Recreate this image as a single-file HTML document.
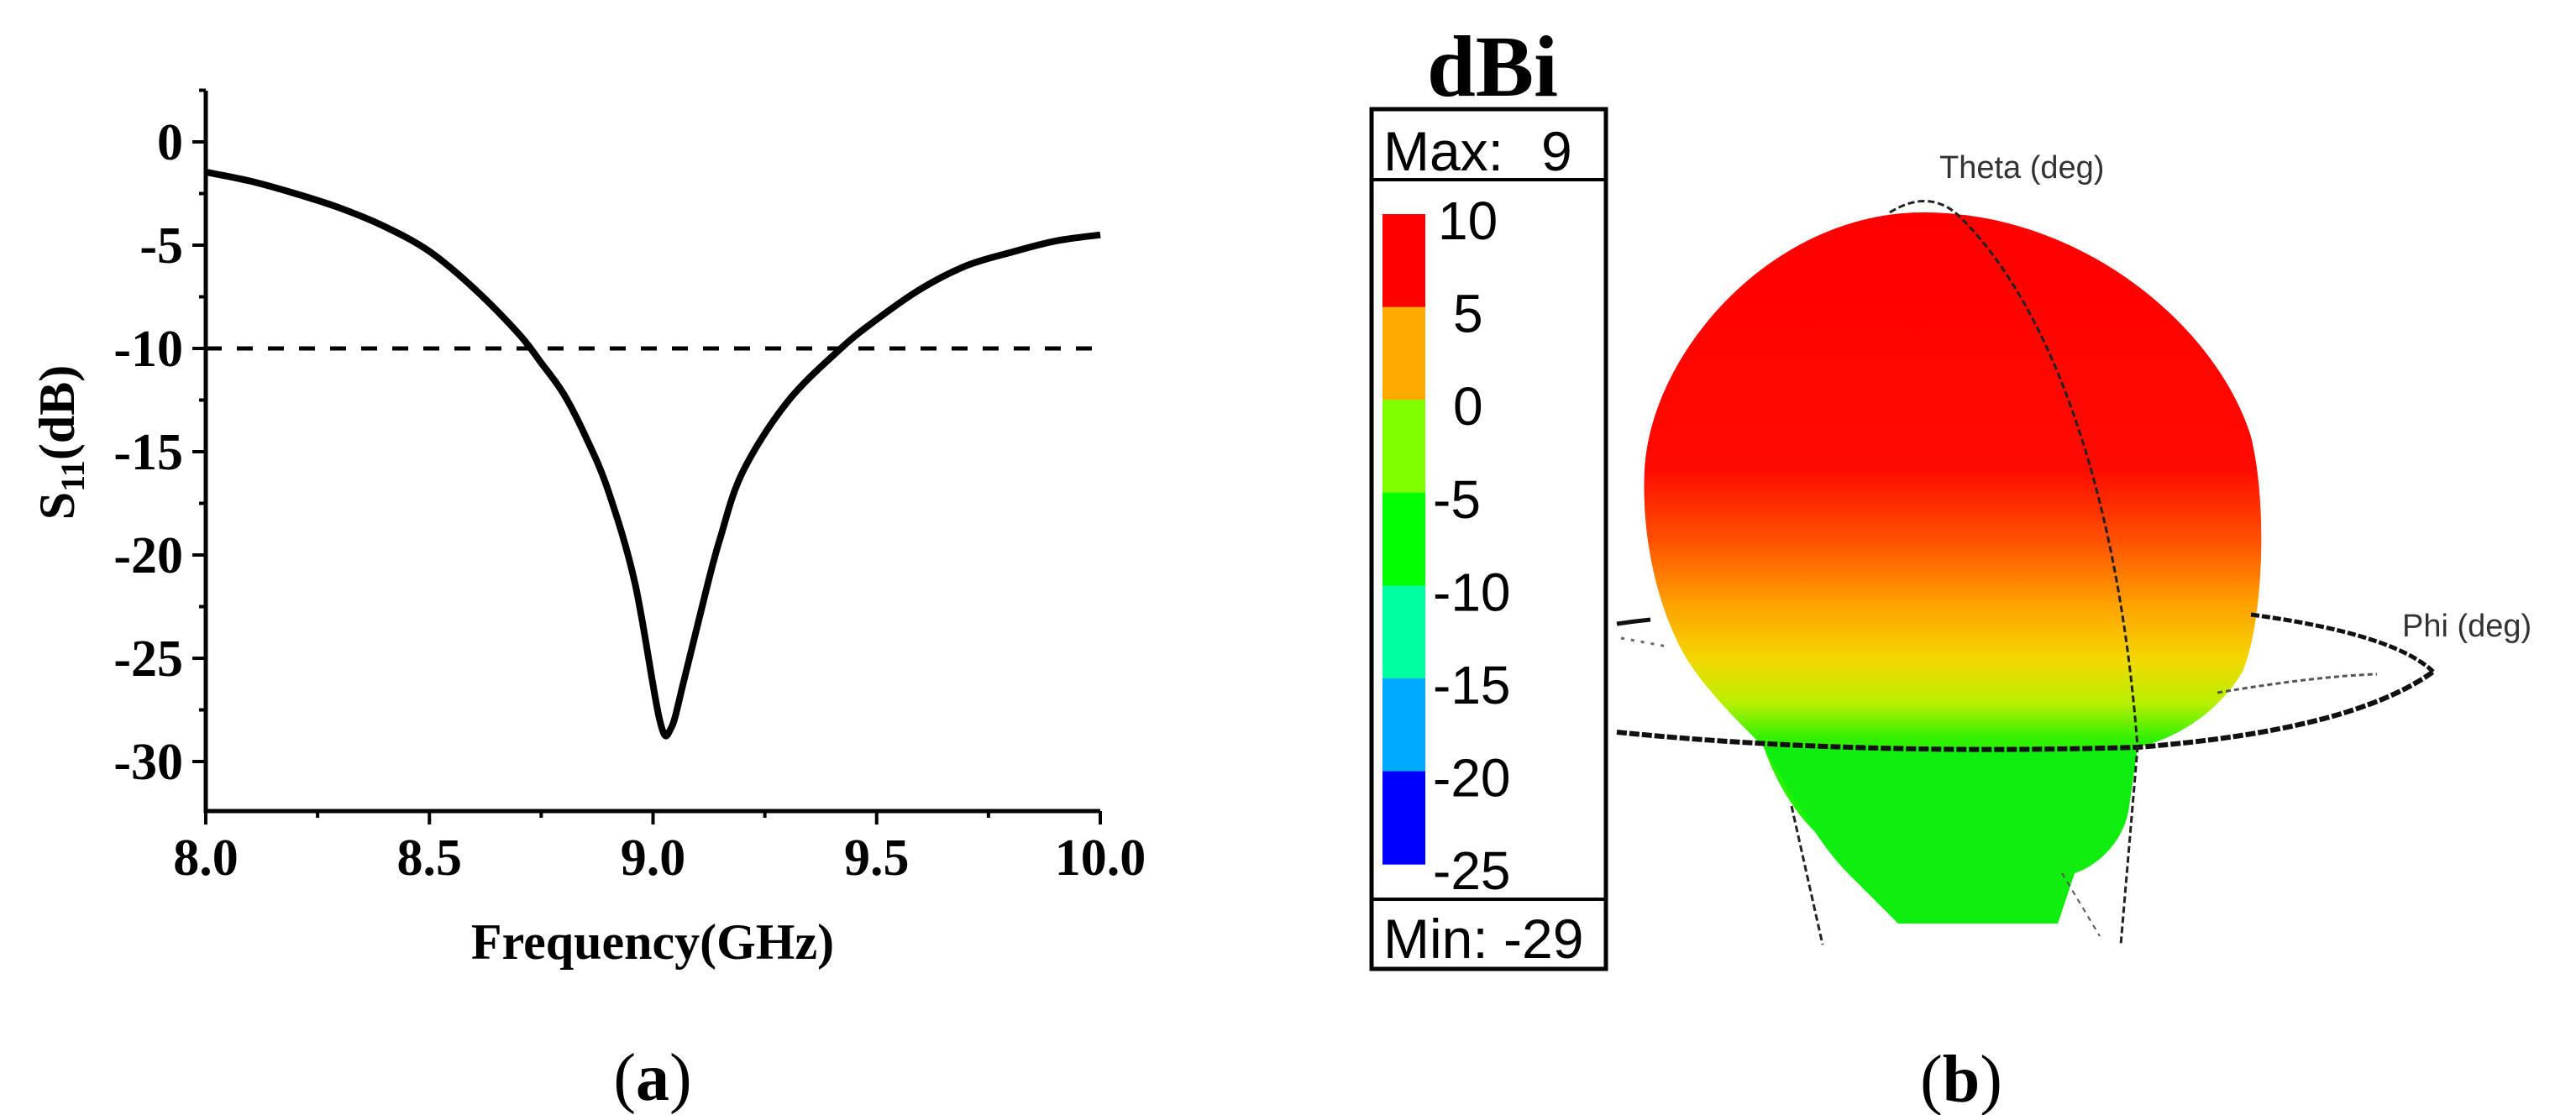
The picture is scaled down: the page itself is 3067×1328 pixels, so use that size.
<!DOCTYPE html>
<html><head><meta charset="utf-8"><style>
html,body{margin:0;padding:0;background:#fff;}
svg{display:block;}
</style></head><body>
<svg width="3067" height="1328" viewBox="0 0 3067 1328" xmlns="http://www.w3.org/2000/svg">
<defs>
<linearGradient id="bodyGrad" x1="0" y1="253" x2="0" y2="1100" gradientUnits="userSpaceOnUse">
<stop offset="0" stop-color="#ff0000"/>
<stop offset="0.36" stop-color="#ff0a00"/>
<stop offset="0.46" stop-color="#ff5000"/>
<stop offset="0.55" stop-color="#ffa000"/>
<stop offset="0.63" stop-color="#f4d800"/>
<stop offset="0.69" stop-color="#b8f000"/>
<stop offset="0.74" stop-color="#30f000"/>
<stop offset="1" stop-color="#10f010"/>
</linearGradient>
</defs>
<g id="chartA"></g>
<g>
<text x="1777" y="114" font-family="Liberation Serif, serif" font-weight="bold" font-size="104" text-anchor="middle">dBi</text>
<rect x="1633" y="130" width="279" height="1024" fill="none" stroke="#000" stroke-width="5"/>
<line x1="1633" y1="214" x2="1912" y2="214" stroke="#000" stroke-width="4"/>
<line x1="1633" y1="1071" x2="1912" y2="1071" stroke="#000" stroke-width="4"/>
<text x="1647" y="203" font-family="Liberation Sans, sans-serif" font-size="66">Max:</text>
<text x="1835" y="203" font-family="Liberation Sans, sans-serif" font-size="66">9</text>
<text x="1647" y="1141" font-family="Liberation Sans, sans-serif" font-size="66">Min: -29</text>
<g id="cbar"></g>
<path d="M 1925,743 Q 1945,740 1965,738" fill="none" stroke="#111" stroke-width="5"/>
<path d="M 1930,760 L 1985,770" fill="none" stroke="#666" stroke-width="3" stroke-dasharray="4 8"/>
<path d="M 2290,253 C 2480,253 2640,390 2680,520 C 2700,600 2695,740 2670,800 C 2640,850 2590,880 2545,890 L 2535,960 C 2530,1000 2500,1030 2470,1040 L 2450,1100 L 2260,1100 C 2230,1070 2210,1040 2185,1010 L 2160,990 C 2130,960 2110,920 2100,890 C 2060,850 2020,810 2000,770 C 1965,700 1955,620 1958,560 C 1965,420 2110,253 2290,253 Z" fill="url(#bodyGrad)"/>
<path d="M 2100,890 C 2140,960 2170,1010 2200,1040 L 2260,1100 L 2450,1100 L 2470,1040 C 2500,1030 2530,1000 2535,960 L 2545,890 Z" fill="#10ee10"/>
<path d="M 2680,732 Q 2850,755 2897,800" fill="none" stroke="#111" stroke-width="5" stroke-dasharray="10 3"/>
<path d="M 2640,825 Q 2760,805 2830,803" fill="none" stroke="#555" stroke-width="3" stroke-dasharray="6 4"/>
<path d="M 1925,872 Q 2200,900 2545,890 Q 2800,870 2897,800" fill="none" stroke="#111" stroke-width="6" stroke-dasharray="12 3"/>
<path d="M 2250,253 Q 2295,225 2330,255 C 2430,350 2520,560 2545,890 L 2525,1125" fill="none" stroke="#222" stroke-width="3" stroke-dasharray="8 4"/>
<path d="M 2133,960 L 2170,1125" fill="none" stroke="#222" stroke-width="3" stroke-dasharray="8 4"/>
<path d="M 2455,1040 L 2500,1115" fill="none" stroke="#555" stroke-width="2" stroke-dasharray="6 6"/>
<text x="2309" y="212" font-family="Liberation Sans, sans-serif" font-size="38" fill="#333">Theta (deg)</text>
<text x="2860" y="758" font-family="Liberation Sans, sans-serif" font-size="38" fill="#333">Phi (deg)</text>
<text x="2335" y="1312" font-family="Liberation Serif, serif" font-size="80" text-anchor="middle">(<tspan font-weight="bold">b</tspan>)</text>
</g>
</svg>
<script>
const freqs=[8.0,8.1,8.2,8.3,8.4,8.5,8.6,8.7,8.75,8.8,8.85,8.9,8.96,9.015,9.04,9.07,9.12,9.15,9.2,9.3,9.42,9.5,9.6,9.7,9.8,9.9,10.0];
const s11=[-1.46,-1.9,-2.5,-3.2,-4.1,-5.3,-7.1,-9.3,-10.7,-12.2,-14.3,-16.9,-21.4,-28.0,-28.4,-26.0,-21.6,-19.2,-16.0,-12.6,-10.0,-8.6,-7.1,-6.0,-5.35,-4.8,-4.5];
const xTicks=["8.0","8.5","9.0","9.5","10.0"];
const yTicks=["0","-5","-10","-15","-20","-25","-30"];
const threshold=[-10];
const cbarLabels=["10","5","0","-5","-10","-15","-20","-25"];
const cbarColors=["#ff0000","#ffaa00","#7fff00","#00ff00","#00ffa0","#00aaff","#0000ff"];
const NS="http://www.w3.org/2000/svg";
function mk(p,t,a){const e=document.createElementNS(NS,t);for(const k in a)e.setAttribute(k,a[k]);p.appendChild(e);return e;}
const L=245,R=1310,T=108,B=966,x0=8,x1=10;
const X=f=>L+(f-x0)/(x1-x0)*(R-L);
const Y=v=>169+(0-v)*24.6;
const g=document.getElementById('chartA');
const ax=mk(g,'path',{d:`M${L},${T} L${L},${B} L${R},${B}`,fill:'none',stroke:'#000','stroke-width':5});


for(let v=2.5;v>=-32.5;v-=2.5){const maj=Math.abs(v%5)<0.01;const y=Y(v);if(y<T-1||y>B+1)continue;mk(g,'line',{x1:L-(maj?16:8),y1:y,x2:L,y2:y,stroke:'#000','stroke-width':4});}
yTicks.forEach(s=>{const t=mk(g,'text',{x:218,y:Y(+s)+21,'text-anchor':'end','font-family':'Liberation Serif, serif','font-weight':'bold','font-size':62});t.textContent=s;

});
for(let f=8;f<=10.001;f+=0.25){const maj=Math.abs((f*2)%1)<0.01;mk(g,'line',{x1:X(f),y1:B,x2:X(f),y2:B+(maj?16:8),stroke:'#000','stroke-width':4});}
xTicks.forEach(s=>{const t=mk(g,'text',{x:X(+s),y:1042,'text-anchor':'middle','font-family':'Liberation Serif, serif','font-weight':'bold','font-size':62});t.textContent=s;

});
const th=mk(g,'line',{x1:L,y1:Y(threshold[0]),x2:R,y2:Y(threshold[0]),stroke:'#000','stroke-width':5,'stroke-dasharray':'19 18'});


const P=freqs.map((f,i)=>[X(f),Y(s11[i])]);
let d='M'+P[0][0]+','+P[0][1];
for(let i=0;i<P.length-1;i++){const p0=P[Math.max(0,i-1)],p1=P[i],p2=P[i+1],p3=P[Math.min(P.length-1,i+2)];
const c1=[p1[0]+(p2[0]-p0[0])/6,p1[1]+(p2[1]-p0[1])/6],c2=[p2[0]-(p3[0]-p1[0])/6,p2[1]-(p3[1]-p1[1])/6];
d+=` C${c1[0]},${c1[1]} ${c2[0]},${c2[1]} ${p2[0]},${p2[1]}`;}
const ln=mk(g,'path',{d:d,fill:'none',stroke:'#000','stroke-width':8,'stroke-linejoin':'round'});


const xt=mk(g,'text',{x:777,y:1142,'text-anchor':'middle','font-family':'Liberation Serif, serif','font-weight':'bold','font-size':60});xt.textContent='Frequency(GHz)';


const yt=mk(g,'text',{x:0,y:0,transform:'translate(88,527) rotate(-90)','text-anchor':'middle','font-family':'Liberation Serif, serif','font-weight':'bold','font-size':60});
yt.innerHTML='S<tspan font-size="40" dy="12">11</tspan><tspan dy="-12">(dB)</tspan>';


const pa=mk(g,'text',{x:777,y:1310,'text-anchor':'middle','font-family':'Liberation Serif, serif','font-size':80});pa.innerHTML='(<tspan font-weight="bold">a</tspan>)';


const cb=document.getElementById('cbar');
const cTop=255,seg=110.6;
cbarColors.forEach((c,i)=>{const r=mk(cb,'rect',{x:1646,y:cTop+i*seg,width:51,height:seg+0.5,fill:c});

});
cbarLabels.forEach((s,i)=>{const v=+s;const x=v<0?1706:(s.length>1?1712:1730);const t=mk(cb,'text',{x:x,y:cTop+i*seg+30,'font-family':'Liberation Sans, sans-serif','font-size':64});t.textContent=s;

});
</script>
</body></html>
